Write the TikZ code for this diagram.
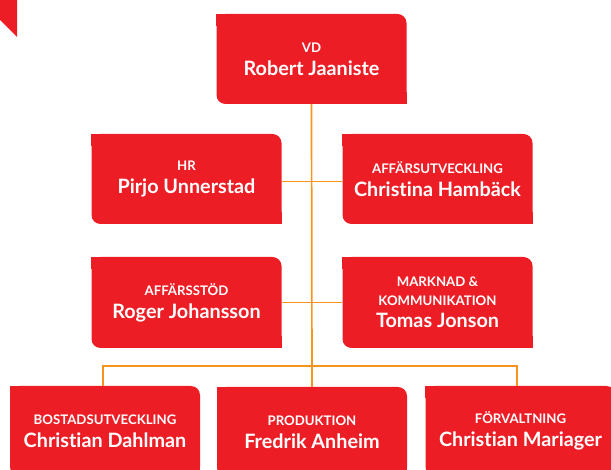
\documentclass[tikz,border=0pt]{standalone}
\usepackage{fontspec}
\setmainfont{Lato}[Ligatures=NoCommon]
\definecolor{boxred}{RGB}{237,29,37}
\definecolor{lineor}{RGB}{247,148,29}
\newcommand\labfont{\fontsize{13.2}{15}\selectfont\bfseries}
\newcommand\namfont{\fontsize{19.8}{23}\selectfont\bfseries}
\tikzset{
  orgbox/.style={rectangle, rounded corners=9pt, fill=boxred, text=white,
    minimum width=190pt, minimum height=90pt, inner sep=0pt, align=center,
    font=\namfont},
  conn/.style={draw=lineor, line width=1.7pt}
}
\newcommand\squarecorners[1]{%
  \fill[boxred] (#1.north west) rectangle ++(12,12);
  \fill[boxred] (#1.south east) rectangle ++(-12,-12);
}
\begin{document}
\begin{tikzpicture}[x=1pt,y=-1pt]
\useasboundingbox (0,0) rectangle (611,470);
% corner mark
\fill[boxred] (0,0) -- (17,0) -- (17,37) -- (0,20) -- cycle;
\node[orgbox] (vd) at (311.5,59) {{\labfont VD}\\Robert Jaaniste};
\node[orgbox] (hr) at (186.5,179) {{\labfont HR}\\Pirjo Unnerstad};
\node[orgbox] (affu) at (437.5,179) {{\labfont AFFÄRSUTVECKLING}\\Christina Hambäck};
\node[orgbox, minimum height=91pt] (affs) at (186.5,302.5) {{\labfont AFFÄRSSTÖD}\\Roger Johansson};
\node[orgbox, minimum height=91pt] (mark) at (437.5,302.5) {{\labfont MARKNAD \&}\\[-4pt]{\labfont KOMMUNIKATION}\\[-1pt]Tomas Jonson};
\node[orgbox] (bost) at (105,431) {{\labfont BOSTADSUTVECKLING}\\Christian Dahlman};
\node[orgbox] (prod) at (312,432) {{\labfont PRODUKTION}\\Fredrik Anheim};
\node[orgbox] (forv) at (520.5,431) {{\labfont FÖRVALTNING}\\Christian Mariager};
\foreach \b in {vd,hr,affu,affs,mark,bost,prod,forv}{\squarecorners{\b}}
\coordinate (bl) at (103,366);
\coordinate (br) at (517,366);
\draw[conn] (vd.south) -- (prod.north);
\draw[conn] ([yshift=-2.5pt]hr.east) -- ([yshift=-2.5pt]affu.west);
\draw[conn] (affs.east) -- (mark.west);
\draw[conn] (bost.north -| bl) -- (bl) -- (br) -- (forv.north -| br);
\end{tikzpicture}
\end{document}
